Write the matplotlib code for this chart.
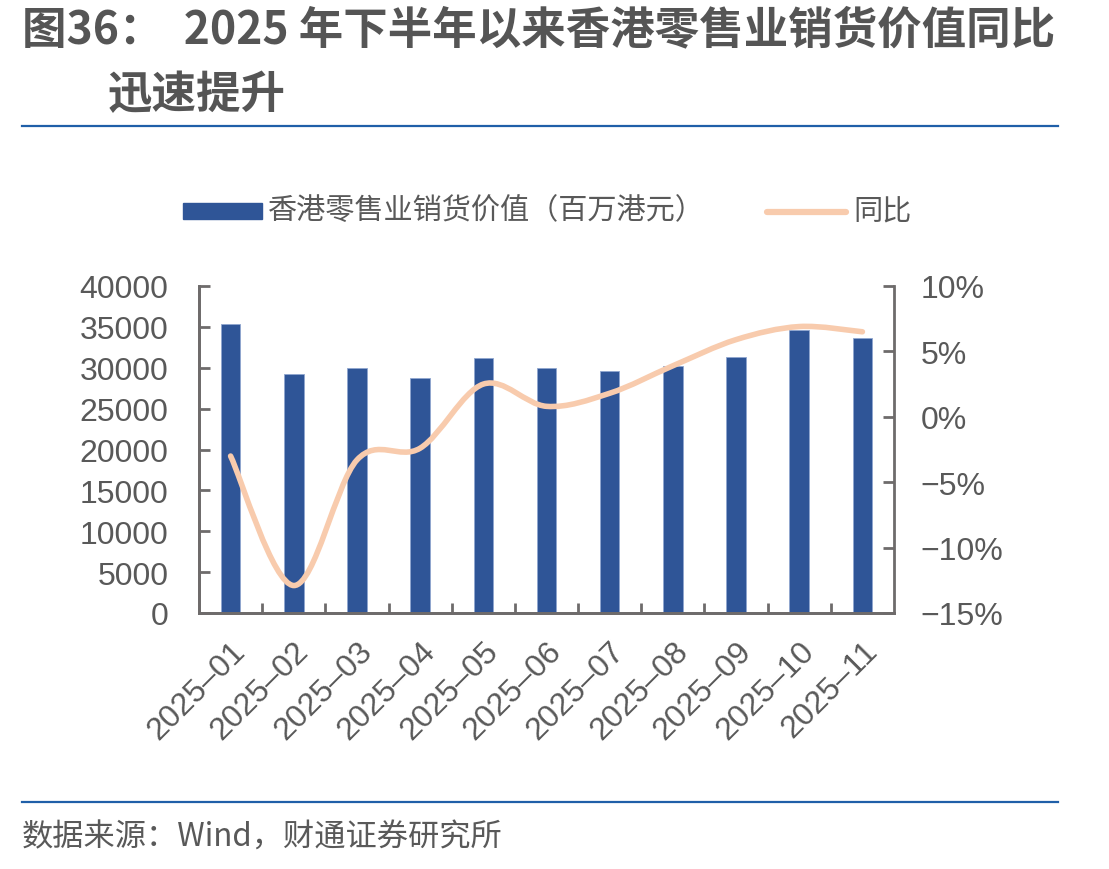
import matplotlib
matplotlib.use("Agg")
import matplotlib.pyplot as plt
from matplotlib.path import Path
from matplotlib.patches import PathPatch, Rectangle
from matplotlib.lines import Line2D
import numpy as np

months = ["2025–01", "2025–02", "2025–03", "2025–04", "2025–05", "2025–06",
          "2025–07", "2025–08", "2025–09", "2025–10", "2025–11"]
sales = [35300, 29250, 30000, 28750, 31200, 30000, 29550, 30250, 31300, 34650, 33650]
yoy = [-3.0, -12.9, -3.3, -2.4, 2.5, 0.8, 1.8, 3.9, 5.9, 6.9, 6.5]

bar_color = "#2F5597"
line_color = "#F8CBAD"
axis_color = "#6E6B6B"
text_color = "#595959"
rule_color = "#1F5FA8"

plt.rcParams["font.family"] = ["Liberation Sans", "Noto Sans CJK SC"]

fig = plt.figure(figsize=(11.09, 8.70), dpi=100)
ax = fig.add_axes([199 / 1109, 256 / 870, 695 / 1109, 327 / 870])
ax2 = ax.twinx()

x = np.arange(len(months))
ax.bar(x, sales, width=0.31, color=bar_color, edgecolor="#8FA6CF", linewidth=0.6, zorder=2)
ax.set_xlim(-0.5, len(months) - 0.5)
ax.set_ylim(0, 40000)
ax.set_yticks(np.arange(0, 40001, 5000))
ax2.set_ylim(-15, 10)
ax2.set_yticks([-15, -10, -5, 0, 5, 10])
ax2.set_yticklabels(["−15%", "−10%", "−5%", "0%", "5%", "10%"])

# smoothed line (Excel-style bezier through the data points)
pts = np.column_stack([x, yoy]).astype(float)
verts = [tuple(pts[0])]
codes = [Path.MOVETO]
for i in range(len(pts) - 1):
    p0 = pts[i - 1] if i > 0 else pts[i]
    p1, p2 = pts[i], pts[i + 1]
    p3 = pts[i + 2] if i + 2 < len(pts) else pts[i + 1]
    c1 = p1 + (p2 - p0) / 6
    c2 = p2 - (p3 - p1) / 6
    verts += [tuple(c1), tuple(c2), tuple(p2)]
    codes += [Path.CURVE4] * 3
ax2.add_patch(PathPatch(Path(verts, codes), facecolor="none", edgecolor=line_color,
                        linewidth=4, capstyle="round", zorder=3))

ax.set_xticks(x)
ax.set_xticklabels(months, rotation=45, ha="right", rotation_mode="anchor")
ax.set_xticks(np.arange(0.5, len(months) - 1, 1), minor=True)
ax.tick_params(axis="x", which="major", length=0, pad=16)
ax.tick_params(axis="x", which="minor", direction="in", length=7, width=2, color=axis_color)
ax.tick_params(axis="y", direction="in", length=8, width=2, color=axis_color, pad=22)
ax2.tick_params(axis="y", direction="in", length=8, width=2, color=axis_color, pad=19)
for a in (ax, ax2):
    a.tick_params(labelsize=23, labelcolor=text_color)
    for s in a.spines.values():
        s.set_color(axis_color)
        s.set_linewidth(2)
    a.spines["top"].set_visible(False)
ax.spines["right"].set_visible(False)

# legend
cjk = ["Noto Sans CJK SC", "Liberation Sans"]
fig.patches.append(Rectangle((183 / 1109, 1 - 220 / 870), 79 / 1109, 16 / 870,
                             transform=fig.transFigure, color=bar_color))
fig.text(268 / 1109, 1 - 212 / 870, "香港零售业销货价值（百万港元）", family=cjk,
         fontsize=21, color=text_color, va="center")
fig.lines.append(Line2D([767 / 1109, 846 / 1109], [1 - 213 / 870] * 2, transform=fig.transFigure,
                        color=line_color, linewidth=4.5, solid_capstyle="round"))
fig.text(853 / 1109, 1 - 212 / 870, "同比", family=cjk, fontsize=21, color=text_color, va="center")

# title, rules and source
fig.text(22 / 1109, 1 - 30 / 870, "图36：  2025 年下半年以来香港零售业销货价值同比", family=cjk,
         fontsize=32, fontweight="bold", color="#555555", va="center")
fig.text(108 / 1109, 1 - 95 / 870, "迅速提升", family=cjk,
         fontsize=32, fontweight="bold", color="#555555", va="center")
fig.lines.append(Line2D([22 / 1109, 1058 / 1109], [1 - 127 / 870] * 2, transform=fig.transFigure,
                        color=rule_color, linewidth=1.6))
fig.lines.append(Line2D([22 / 1109, 1058 / 1109], [1 - 803 / 870] * 2, transform=fig.transFigure,
                        color=rule_color, linewidth=1.6))
fig.text(22 / 1109, 1 - 838 / 870, "数据来源：Wind，财通证券研究所", family=cjk,
         fontsize=22.5, color=text_color, va="center")

fig.savefig("out.png", dpi=100)
